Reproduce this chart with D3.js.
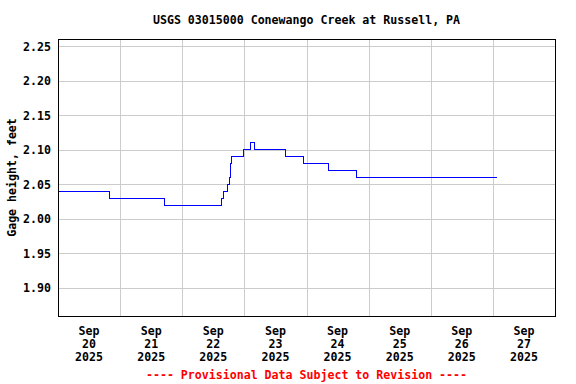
<!DOCTYPE html>
<html>
<head>
<meta charset="utf-8">
<script src="https://cdn.jsdelivr.net/npm/d3@7"></script>
<style>
  body { margin: 0; background: #fff; }
  text { font-family: "DejaVu Sans Mono", "Liberation Mono", monospace; font-weight: bold; }
</style>
</head>
<body>
<div id="chart"></div>
<script>
// gage height readings (step changes)
var times = ["2025-09-20 00:00", "2025-09-20 19:45", "2025-09-21 17:00", "2025-09-22 15:15",
             "2025-09-22 15:50", "2025-09-22 17:30", "2025-09-22 18:10", "2025-09-22 18:30",
             "2025-09-22 18:45", "2025-09-22 19:00", "2025-09-22 23:45", "2025-09-23 02:15",
             "2025-09-23 04:00", "2025-09-23 16:00", "2025-09-23 23:00", "2025-09-24 08:30",
             "2025-09-24 19:30", "2025-09-27 01:45"];
var heights = [2.04, 2.03, 2.02, 2.03,
               2.04, 2.05, 2.06, 2.07,
               2.08, 2.09, 2.10, 2.11,
               2.10, 2.09, 2.08, 2.07,
               2.06, 2.06];

var yTicks = [1.90, 1.95, 2.00, 2.05, 2.10, 2.15, 2.20, 2.25];
var dayTicks = ["2025-09-20", "2025-09-21", "2025-09-22", "2025-09-23",
                "2025-09-24", "2025-09-25", "2025-09-26", "2025-09-27"];

var titleText = "USGS 03015000 Conewango Creek at Russell, PA";
var yLabel = "Gage height, feet";
var footer = "---- Provisional Data Subject to Revision ----";

var parseTime = d3.utcParse("%Y-%m-%d %H:%M");
var parseDay = d3.utcParse("%Y-%m-%d");

var margin = {top: 39, right: 21, bottom: 68, left: 58},
    width = 576 - margin.left - margin.right,
    height = 384 - margin.top - margin.bottom;

var svg = d3.select("#chart").append("svg")
    .attr("width", 576)
    .attr("height", 384);

var g = svg.append("g")
    .attr("transform", "translate(" + margin.left + "," + margin.top + ")");

var x = d3.scaleUtc()
    .domain([parseDay("2025-09-20"), parseDay("2025-09-28")])
    .range([0, width]);

var y = d3.scaleLinear()
    .domain([1.8593, 2.2607])
    .range([height, 0]);

var data = times.map(function(t, i) { return {date: parseTime(t), value: heights[i]}; });

// grid lines
g.append("g")
    .selectAll("line.h")
    .data(yTicks)
    .enter().append("line")
    .attr("x1", 0).attr("x2", width)
    .attr("y1", function(d) { return Math.round(y(d)) + 0.5; })
    .attr("y2", function(d) { return Math.round(y(d)) + 0.5; })
    .attr("stroke", "#cccccc");

var days = dayTicks.map(parseDay);
g.append("g")
    .selectAll("line.v")
    .data(days.slice(1))
    .enter().append("line")
    .attr("y1", 0).attr("y2", height)
    .attr("x1", function(d) { return Math.round(x(d)) + 0.5; })
    .attr("x2", function(d) { return Math.round(x(d)) + 0.5; })
    .attr("stroke", "#cccccc");

// the data line
var line = d3.line()
    .curve(d3.curveStepAfter)
    .x(function(d) { return x(d.date); })
    .y(function(d) { return y(d.value); });

g.append("path")
    .datum(data)
    .attr("fill", "none")
    .attr("stroke", "#0000ff")
    .attr("stroke-width", 1)
    .attr("shape-rendering", "crispEdges")
    .attr("d", line);

// frame
g.append("rect")
    .attr("x", 0.5).attr("y", 0.5)
    .attr("width", width).attr("height", height)
    .attr("fill", "none")
    .attr("stroke", "#000");

// y tick labels
g.append("g")
    .selectAll("text")
    .data(yTicks)
    .enter().append("text")
    .attr("x", -7)
    .attr("y", function(d) { return y(d); })
    .attr("dy", "0.36em")
    .attr("text-anchor", "end")
    .style("font-size", "11.6px")
    .text(function(d) { return d3.format(".2f")(d); });

// x labels, centred on each day
var xl = g.append("g")
    .selectAll("text")
    .data(days)
    .enter().append("text")
    .attr("text-anchor", "middle")
    .attr("transform", function(d) {
        return "translate(" + x(d3.utcHour.offset(d, 12)) + "," + (height + 19) + ")";
    })
    .style("font-size", "11.6px");
xl.append("tspan").attr("x", 0).attr("dy", 0).text(function(d) { return d3.utcFormat("%b")(d); });
xl.append("tspan").attr("x", 0).attr("dy", 13).text(function(d) { return d3.utcFormat("%d")(d); });
xl.append("tspan").attr("x", 0).attr("dy", 13).text(function(d) { return d3.utcFormat("%Y")(d); });

// title
svg.append("text")
    .attr("x", margin.left + width / 2)
    .attr("y", 24)
    .attr("text-anchor", "middle")
    .style("font-size", "11.6px")
    .text(titleText);

// y axis label
svg.append("text")
    .attr("transform", "translate(16," + (margin.top + height / 2) + ") rotate(-90)")
    .attr("text-anchor", "middle")
    .style("font-size", "11.6px")
    .text(yLabel);

// provisional footer
svg.append("text")
    .attr("x", margin.left + width / 2)
    .attr("y", 379)
    .attr("text-anchor", "middle")
    .attr("fill", "#ff0000")
    .style("font-size", "11.6px")
    .text(footer);
</script>
</body>
</html>
